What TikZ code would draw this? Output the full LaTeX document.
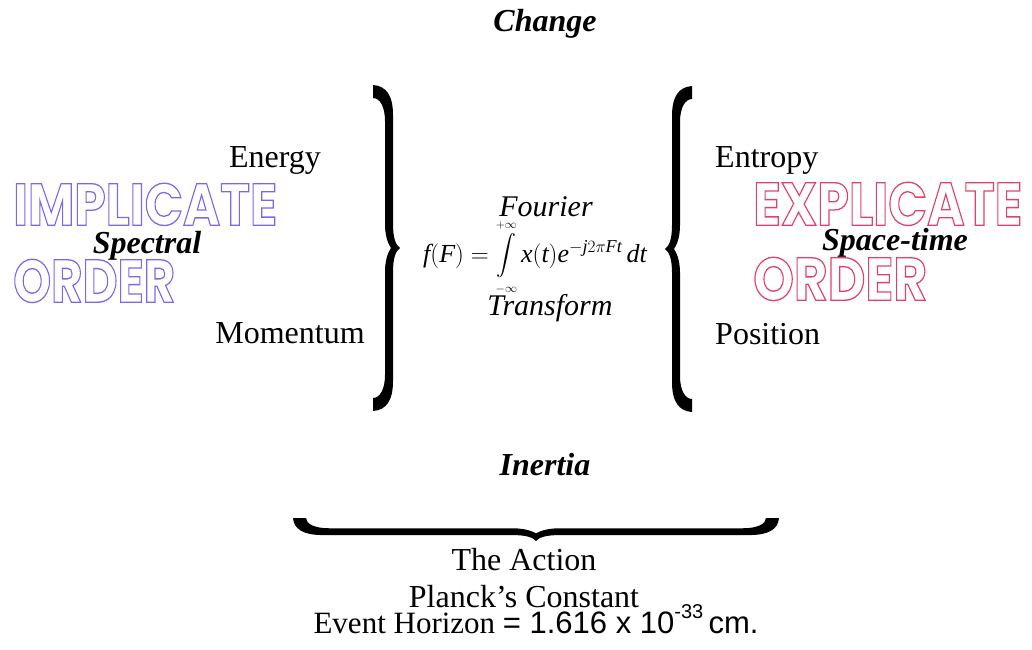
\documentclass[tikz,border=0pt]{standalone}
\usepackage{exscale}
\usepackage{fontspec}
\usepackage{graphicx}
\setmainfont{Liberation Serif}
\setsansfont{Liberation Sans}
\newfontfamily\decofont{Poppins}
\usepackage{tikz}
\usetikzlibrary{positioning}

\definecolor{implcol}{RGB}{122,104,236}
\definecolor{explcol}{RGB}{226,64,108}

% hollow capitals: stroke-only glyphs squeezed into a given box
\newcommand{\hollow}[4]{{\color{#1}\special{pdf:literal q 1 Tr 0.7 w}\resizebox{#2}{#3}{\decofont\bfseries #4}\special{pdf:literal Q}}}
% a shorter display integral
\newcommand{\midint}{\mathop{\vcenter{\hbox{\scalebox{0.8}{$\displaystyle\int$}}}}\limits}

\tikzset{
	pics/curly/.style={code={
		\fill (0,0) .. controls (-4,-3) and (-7,-9) .. (-7,-24)
			-- (-7,{-(#1-30)})
			.. controls (-7,{-(#1-10)}) and (-14,{-(#1-1)}) .. (-27,-#1)
			-- (-27,{-(#1-13)})
			.. controls (-20,{-(#1-13)}) and (-15,{-(#1-22)}) .. (-15,{-(#1-36)})
			-- (-15,-24)
			.. controls (-15,-10) and (-11,-3) .. (-9,0)
			.. controls (-11,3) and (-15,10) .. (-15,24)
			-- (-15,{#1-36})
			.. controls (-15,{#1-22}) and (-20,{#1-13}) .. (-27,{#1-13})
			-- (-27,#1)
			.. controls (-14,{#1-1}) and (-7,{#1-10}) .. (-7,{#1-30})
			-- (-7,24)
			.. controls (-7,9) and (-4,3) .. (0,0) -- cycle;
	}}
}

\begin{document}
\begin{tikzpicture}[x=1pt, y=-1pt,
		every node/.style={inner sep=0pt, font=\fontsize{32}{36}\selectfont},
		word/.style={anchor=base},
		heading/.style={anchor=base, font=\fontsize{32}{36}\selectfont\bfseries\itshape},
		deco/.style={anchor=north west}]
		\useasboundingbox (0,0) rectangle (1032,649);

		\node[heading] (change) at (545, 31) {Change};

		% the two orders
		\node[deco] (impl) at (13, 183) {\hollow{implcol}{264pt}{42pt}{IMPLICATE}};
		\node[deco] (implorder) at (13, 259) {\hollow{implcol}{162pt}{43pt}{ORDER}};
		\node[deco] (expl) at (753, 182) {\hollow{explcol}{269pt}{43pt}{EXPLICATE}};
		\node[deco] (explorder) at (753, 257) {\hollow{explcol}{174pt}{43pt}{ORDER}};
		\node[heading] (spectral) at (147, 253) {Spectral};
		\node[heading] (spacetime) at (895, 250) {Space-time};

		\node[word] (energy) at (275, 167) {Energy};
		\node[word] (momentum) at (290, 343) {Momentum};
		\node[word, anchor=base west] (entropy) at (715, 167) {Entropy};
		\node[word, anchor=base west] (position) at (715, 344) {Position};

		% transform in the middle
		\node[word, font=\fontsize{30}{34}\selectfont\itshape] (fourier) at (546, 216) {Fourier};
		\node[word, font=\fontsize{26}{30}\selectfont] (formula) at (535, 262)
			{$\mathit{f}(\mathit{F}) = \midint_{\scriptscriptstyle -\infty}^{\scriptscriptstyle +\infty} \mathit{x}(\mathit{t})\mathit{e}^{-\mathit{j}2\pi \mathit{Ft}}\,\mathit{dt}$};
		\node[word, font=\fontsize{30}{34}\selectfont\itshape] (transform) at (550, 315) {Transform};

		\pic at (400, 248) {curly=163};
		\pic[xscale=-1] at (665, 249) {curly=163};

		\node[heading] (inertia) at (545, 475) {Inertia};
		\pic[rotate=-90, xscale=0.85] at (536, 541) {curly=243};

		\node[word] (action) at (524, 570) {The Action};
		\node[word] (planck) at (524, 607) {Planck’s Constant};
		\node[word, font=\fontsize{31}{36}\selectfont] (horizon) at (536, 633)
			{Event Horizon {\sffamily = 1.616 x 10\raisebox{15pt}{\fontsize{20}{22}\selectfont -33}\,cm.}};
\end{tikzpicture}
\end{document}
